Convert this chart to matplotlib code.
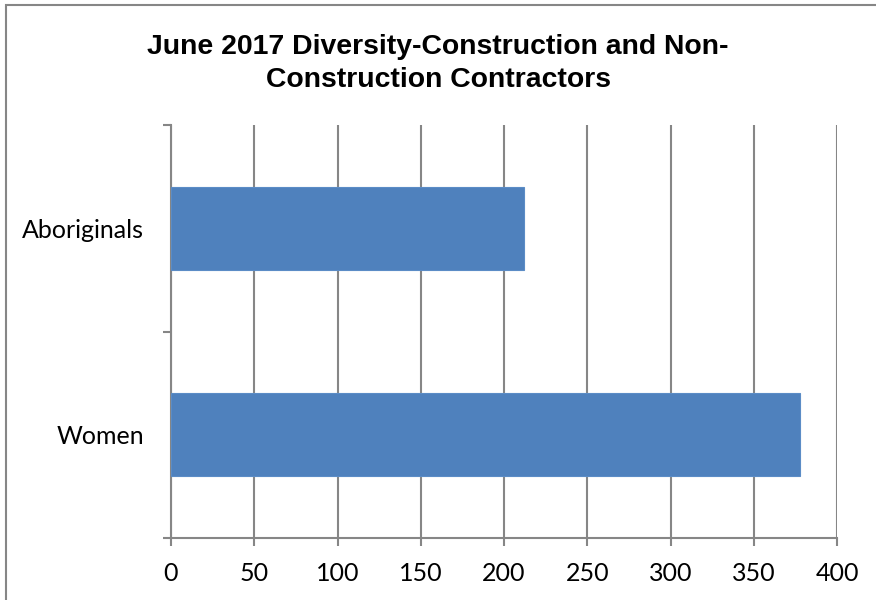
import matplotlib.pyplot as plt
from matplotlib.patches import Rectangle

categories = ['Women', 'Aboriginals']
values = [378, 212]
x_ticks = [0, 50, 100, 150, 200, 250, 300, 350, 400]

label_font = ['Lato', 'DejaVu Sans']
grid_gray = '#868686'

fig = plt.figure(figsize=(8.76, 6), dpi=100)
ax = fig.add_axes([171 / 876, 1 - 538 / 600, 666 / 876, 413 / 600])

ax.barh(categories, values, height=0.4, color='#4F81BD', edgecolor='#5B8CC6', linewidth=0.8, zorder=3)

ax.set_xlim(0, 400)
ax.set_ylim(-0.5, 1.5)
ax.set_xticks(x_ticks)
ax.set_xticklabels([str(t) for t in x_ticks], family=label_font, fontsize=18)
ax.set_yticks([-0.5, 0.5, 1.5], minor=False)
ax.set_yticklabels([])
ax.set_yticks([0, 1], minor=True)
ax.set_yticklabels(categories, minor=True, family=label_font, fontsize=18)
ax.tick_params(axis='y', which='minor', length=0, pad=19.5)
ax.tick_params(axis='y', which='major', length=6, width=1.5, color=grid_gray, direction='out')
ax.tick_params(axis='x', length=6, width=1.5, color=grid_gray, pad=11)

ax.grid(axis='x', color=grid_gray, linewidth=1.5, zorder=0)
for side in ['top', 'right']:
    ax.spines[side].set_visible(False)
for side in ['left', 'bottom']:
    ax.spines[side].set_color(grid_gray)
    ax.spines[side].set_linewidth(1.5)

fig.text(0.5, 1 - 63.5 / 600, 'June 2017 Diversity-Construction and Non-\nConstruction Contractors',
         ha='center', va='center', family=['Liberation Sans', 'DejaVu Sans'],
         fontweight='bold', fontsize=20.4, linespacing=1.38)

fig.patches.append(Rectangle((6 / 876, -0.1), 1.2, 1 - 4.5 / 600 + 0.1, transform=fig.transFigure,
                             fill=False, edgecolor=grid_gray, linewidth=1.5))

fig.savefig('out.png', dpi=100)
